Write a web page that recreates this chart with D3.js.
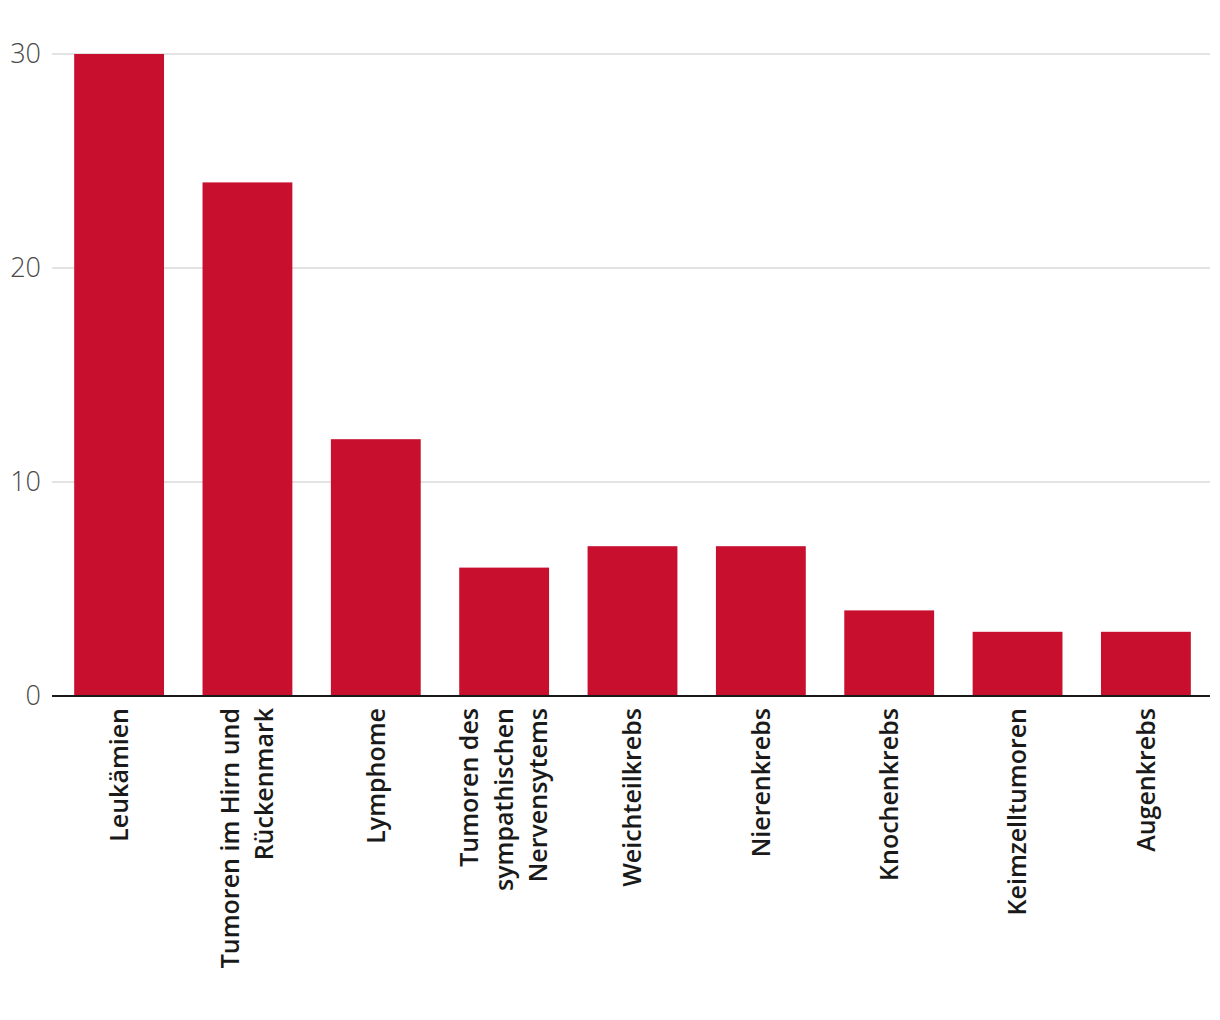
<!DOCTYPE html>
<html><head><meta charset="utf-8">
<script src="https://cdn.jsdelivr.net/npm/d3@7"></script>
<style>body{margin:0;background:#fff}svg{display:block}</style>
</head><body>
<svg id="c" width="1220" height="1020"></svg>
<script>
const categories = ["Leukämien","Tumoren im Hirn und|Rückenmark","Lymphome","Tumoren des|sympathischen|Nervensytems","Weichteilkrebs","Nierenkrebs","Knochenkrebs","Keimzelltumoren","Augenkrebs"];
const values = [30,24,12,6,7,7,4,3,3];
const yTicks = [0,10,20,30];

(function(){
const svg = d3.select("#c");
const mL = 52, mR = 1210, mT = 54, mB = 696;
const x = d3.scaleBand().domain(categories).range([mL + 1, mR + 2]).paddingInner(0.3).paddingOuter(0.165);
const y = d3.scaleLinear().domain([0,30]).range([mB, mT]);

svg.append("g").selectAll("line").data(yTicks.filter(d=>d>0)).join("line")
  .attr("x1", mL).attr("x2", mR).attr("y1", d=>y(d)).attr("y2", d=>y(d))
  .attr("stroke", "#e3e3e3").attr("stroke-width", 2);

svg.append("g").selectAll("text").data(yTicks).join("text")
  .attr("x", 41).attr("y", d=>y(d)).attr("dy", "0.35em").attr("text-anchor","end")
  .attr("font-family","'Open Sans', sans-serif").attr("font-weight",300).attr("font-size",27)
  .attr("fill","#4a4a4a").text(d=>d);

svg.append("g").selectAll("rect").data(values).join("rect")
  .attr("x", (d,i)=>x(categories[i])).attr("width", x.bandwidth())
  .attr("y", d=>y(d)).attr("height", d=>y(0)-y(d)).attr("fill","#c8102e");

svg.append("line").attr("x1", mL).attr("x2", mR).attr("y1", mB).attr("y2", mB)
  .attr("stroke","#1a1a1a").attr("stroke-width",2);

const lh = 34.5;
const g = svg.append("g").selectAll("text").data(categories).join("text")
  .attr("transform", d=>`translate(${x(d)+x.bandwidth()/2},708) rotate(-90)`)
  .attr("text-anchor","end")
  .attr("font-family","'Open Sans', sans-serif").attr("font-weight",600).attr("font-size",25)
  .attr("fill","#1a1a1a");
g.each(function(d){
  const lines = d.split("|");
  const n = lines.length;
  d3.select(this).selectAll("tspan").data(lines).join("tspan")
    .attr("x",0).attr("y",(l,i)=> (i-(n-1)/2)*lh).attr("dy","0.35em").text(l=>l);
});
})();
</script>
</body></html>
